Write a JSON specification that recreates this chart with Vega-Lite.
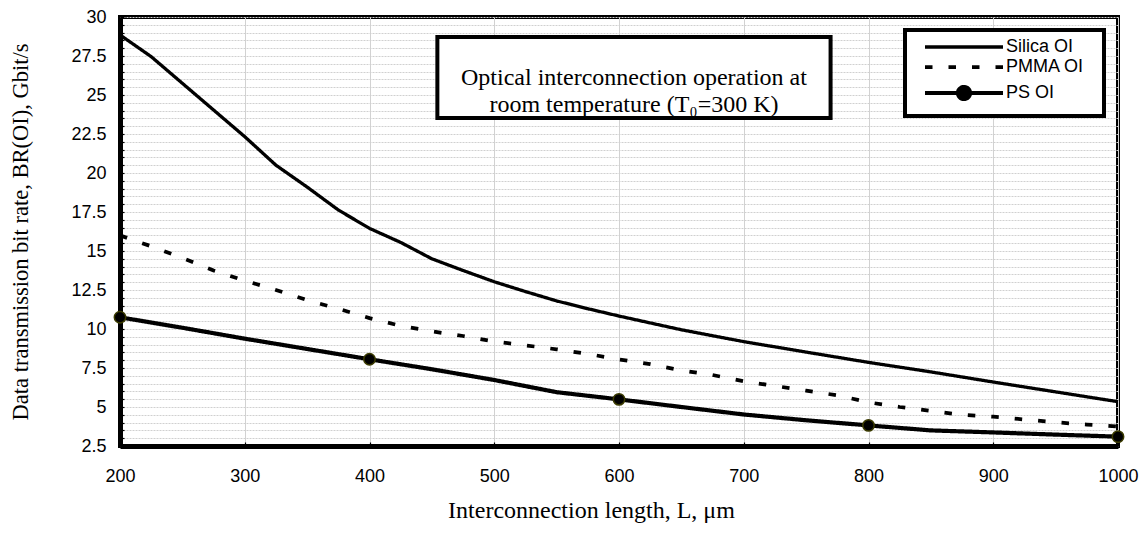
{
  "$schema": "https://vega.github.io/schema/vega-lite/v6.json",
  "width": 998,
  "height": 429,
  "autosize": {"type": "none"},
  "padding": {"left": 120, "top": 17, "right": 25, "bottom": 87},
  "background": "white",
  "config": {
    "view": {"stroke": "black", "strokeWidth": 4},
    "font": "Liberation Sans"
  },
  "data": {
    "values": [
      {"series": "Silica OI", "L": 200, "B": 28.85},
      {"series": "Silica OI", "L": 225, "B": 27.46},
      {"series": "Silica OI", "L": 250, "B": 25.75},
      {"series": "Silica OI", "L": 275, "B": 24.04},
      {"series": "Silica OI", "L": 300, "B": 22.33},
      {"series": "Silica OI", "L": 325, "B": 20.5},
      {"series": "Silica OI", "L": 350, "B": 19.1},
      {"series": "Silica OI", "L": 375, "B": 17.63},
      {"series": "Silica OI", "L": 400, "B": 16.45},
      {"series": "Silica OI", "L": 425, "B": 15.55},
      {"series": "Silica OI", "L": 450, "B": 14.5},
      {"series": "Silica OI", "L": 475, "B": 13.75},
      {"series": "Silica OI", "L": 500, "B": 13.03},
      {"series": "Silica OI", "L": 525, "B": 12.4},
      {"series": "Silica OI", "L": 550, "B": 11.8},
      {"series": "Silica OI", "L": 575, "B": 11.3},
      {"series": "Silica OI", "L": 600, "B": 10.83},
      {"series": "Silica OI", "L": 650, "B": 9.95},
      {"series": "Silica OI", "L": 700, "B": 9.19},
      {"series": "Silica OI", "L": 750, "B": 8.52},
      {"series": "Silica OI", "L": 800, "B": 7.86},
      {"series": "Silica OI", "L": 850, "B": 7.25},
      {"series": "Silica OI", "L": 900, "B": 6.6},
      {"series": "Silica OI", "L": 950, "B": 5.97},
      {"series": "Silica OI", "L": 1000, "B": 5.34},
      {"series": "PMMA OI", "L": 200, "B": 16.0},
      {"series": "PMMA OI", "L": 225, "B": 15.3},
      {"series": "PMMA OI", "L": 250, "B": 14.55},
      {"series": "PMMA OI", "L": 275, "B": 13.75},
      {"series": "PMMA OI", "L": 300, "B": 13.1},
      {"series": "PMMA OI", "L": 325, "B": 12.5},
      {"series": "PMMA OI", "L": 350, "B": 11.85},
      {"series": "PMMA OI", "L": 375, "B": 11.3},
      {"series": "PMMA OI", "L": 400, "B": 10.7},
      {"series": "PMMA OI", "L": 425, "B": 10.2},
      {"series": "PMMA OI", "L": 450, "B": 9.85},
      {"series": "PMMA OI", "L": 475, "B": 9.55},
      {"series": "PMMA OI", "L": 500, "B": 9.2},
      {"series": "PMMA OI", "L": 525, "B": 8.95},
      {"series": "PMMA OI", "L": 550, "B": 8.7},
      {"series": "PMMA OI", "L": 575, "B": 8.4},
      {"series": "PMMA OI", "L": 600, "B": 8.05},
      {"series": "PMMA OI", "L": 625, "B": 7.75},
      {"series": "PMMA OI", "L": 650, "B": 7.35},
      {"series": "PMMA OI", "L": 675, "B": 7.05},
      {"series": "PMMA OI", "L": 700, "B": 6.65},
      {"series": "PMMA OI", "L": 725, "B": 6.35},
      {"series": "PMMA OI", "L": 750, "B": 6.05},
      {"series": "PMMA OI", "L": 775, "B": 5.75},
      {"series": "PMMA OI", "L": 800, "B": 5.3},
      {"series": "PMMA OI", "L": 825, "B": 5.0},
      {"series": "PMMA OI", "L": 850, "B": 4.75},
      {"series": "PMMA OI", "L": 875, "B": 4.5},
      {"series": "PMMA OI", "L": 900, "B": 4.38},
      {"series": "PMMA OI", "L": 925, "B": 4.2},
      {"series": "PMMA OI", "L": 950, "B": 4.02},
      {"series": "PMMA OI", "L": 975, "B": 3.87},
      {"series": "PMMA OI", "L": 1000, "B": 3.75},
      {"series": "PS OI", "L": 200, "B": 10.75},
      {"series": "PS OI", "L": 250, "B": 10.08},
      {"series": "PS OI", "L": 300, "B": 9.38},
      {"series": "PS OI", "L": 350, "B": 8.72},
      {"series": "PS OI", "L": 400, "B": 8.06},
      {"series": "PS OI", "L": 450, "B": 7.42},
      {"series": "PS OI", "L": 500, "B": 6.73},
      {"series": "PS OI", "L": 550, "B": 5.95},
      {"series": "PS OI", "L": 600, "B": 5.49},
      {"series": "PS OI", "L": 650, "B": 5.0},
      {"series": "PS OI", "L": 700, "B": 4.52},
      {"series": "PS OI", "L": 750, "B": 4.15},
      {"series": "PS OI", "L": 800, "B": 3.82},
      {"series": "PS OI", "L": 850, "B": 3.5},
      {"series": "PS OI", "L": 900, "B": 3.37},
      {"series": "PS OI", "L": 950, "B": 3.23},
      {"series": "PS OI", "L": 1000, "B": 3.1}
    ]
  },
  "layer": [
    {
      "mark": {"type": "line", "color": "black", "strokeCap": "butt", "strokeJoin": "round"},
      "encoding": {
        "x": {
          "field": "L",
          "type": "quantitative",
          "scale": {"domain": [200, 1000], "nice": false, "zero": false},
          "axis": {
            "values": [200, 300, 400, 500, 600, 700, 800, 900, 1000],
            "tickCount": 100,
            "format": "d",
            "labelFlush": false,
            "labelFont": "Liberation Sans",
            "labelFontSize": 18,
            "labelColor": "black",
            "labelPadding": 25,
            "ticks": true,
            "tickSize": -4,
            "tickColor": "black",
            "tickWidth": 1.2,
            "domainColor": "black",
            "domainWidth": 5,
            "grid": true,
            "gridColor": "#d2d2d2",
            "gridWidth": 1,
            "title": "Interconnection length, L, μm",
            "titleFont": "Liberation Serif",
            "titleFontSize": 24,
            "titleFontWeight": "normal",
            "titleColor": "black",
            "titleX": 471,
            "titleY": 64,
            "titleAlign": "center",
            "titleBaseline": "middle"
          }
        },
        "y": {
          "field": "B",
          "type": "quantitative",
          "scale": {"domain": [2.5, 30], "nice": false, "zero": false},
          "axis": {
            "values": [2.5, 3, 3.5, 4, 4.5, 5, 5.5, 6, 6.5, 7, 7.5, 8, 8.5, 9, 9.5, 10, 10.5, 11, 11.5, 12, 12.5, 13, 13.5, 14, 14.5, 15, 15.5, 16, 16.5, 17, 17.5, 18, 18.5, 19, 19.5, 20, 20.5, 21, 21.5, 22, 22.5, 23, 23.5, 24, 24.5, 25, 25.5, 26, 26.5, 27, 27.5, 28, 28.5, 29, 29.5, 30],
            "tickCount": 100,
            "labelExpr": "datum.value % 2.5 === 0 ? format(datum.value, '~g') : ''",
            "labelOverlap": false,
            "labelBound": false,
            "labelFlush": false,
            "labelFont": "Liberation Sans",
            "labelFontSize": 18,
            "labelColor": "black",
            "labelPadding": 18,
            "ticks": true,
            "tickSize": -4,
            "tickColor": "black",
            "tickWidth": 1.2,
            "domainColor": "black",
            "domainWidth": 5,
            "grid": true,
            "gridColor": "#d0d0d0",
            "gridWidth": 1,
            "gridDash": [2, 1],
            "title": "Data transmission bit rate, BR(OI), Gbit/s",
            "titleFont": "Liberation Serif",
            "titleFontSize": 22.5,
            "titleFontWeight": "normal",
            "titleColor": "black",
            "titleX": -100,
            "titleY": 214.5,
            "titleAngle": -90,
            "titleAlign": "center",
            "titleBaseline": "middle"
          }
        },
        "strokeWidth": {
          "field": "series",
          "type": "nominal",
          "scale": {"domain": ["Silica OI", "PMMA OI", "PS OI"], "range": [3.3, 4.2, 3.3]},
          "legend": null
        },
        "strokeDash": {
          "field": "series",
          "type": "nominal",
          "scale": {"domain": ["Silica OI", "PMMA OI", "PS OI"], "range": [[1, 0], [7.5, 16], [1, 0]]},
          "legend": {
            "orient": "none",
            "legendX": 785,
            "legendY": 13,
            "title": null,
            "labelFont": "Liberation Sans",
            "labelFontSize": 18,
            "labelColor": "black",
            "labelOffset": 75,
            "symbolSize": 100,
            "symbolStrokeWidth": 3.5,
            "symbolStrokeColor": "black",
            "fillColor": "white",
            "strokeColor": "black",
            "padding": 8,
            "rowPadding": 2,
            "encode": {
              "legend": {"update": {"strokeWidth": {"value": 4}}},
              "symbols": {
                "update": {
                  "shape": {"signal": "datum.value === 'PS OI' ? 'M0.6,0H7.2M9.6,0H16.2M7.2,0A1.2,1.2 0 1,1 9.6,0A1.2,1.2 0 1,1 7.2,0ZM33,0' : 'M0.6,0H16.2M33,0'"},
                  "fill": {"signal": "datum.value === 'PS OI' ? 'black' : 'transparent'"},
                  "stroke": {"value": "black"},
                  "strokeWidth": {"signal": "datum.value === 'PMMA OI' ? 4.2 : 3.5"},
                  "strokeCap": {"value": "butt"},
                  "strokeDash": {"signal": "datum.value === 'PMMA OI' ? [8, 16] : [1, 0]"},
                  "opacity": {"value": 1}
                }
              }
            }
          }
        }
      }
    },
    {
      "transform": [{"filter": "datum.series === 'PS OI' && datum.L % 200 === 0"}],
      "mark": {"type": "point", "filled": true, "fill": "black", "stroke": "#3b3b00", "strokeWidth": 1.5, "size": 130, "opacity": 1},
      "encoding": {
        "x": {"field": "L", "type": "quantitative"},
        "y": {"field": "B", "type": "quantitative"}
      }
    },
    {
      "data": {"values": [{"note": "operating conditions"}]},
      "mark": {"type": "rect", "fill": "white", "stroke": "black", "strokeWidth": 4},
      "encoding": {
        "x": {"datum": 454.4},
        "x2": {"datum": 769.6},
        "y": {"datum": 28.72},
        "y2": {"datum": 23.53}
      }
    },
    {
      "data": {"values": [{"note": "operating conditions"}]},
      "mark": {
        "type": "text",
        "font": "Liberation Serif",
        "fontSize": 24,
        "lineHeight": 27,
        "align": "center",
        "baseline": "middle",
        "color": "black",
        "text": ["Optical interconnection operation at", "room temperature (T₀=300 K)"]
      },
      "encoding": {
        "x": {"datum": 612},
        "y": {"datum": 26.12}
      }
    }
  ]
}
